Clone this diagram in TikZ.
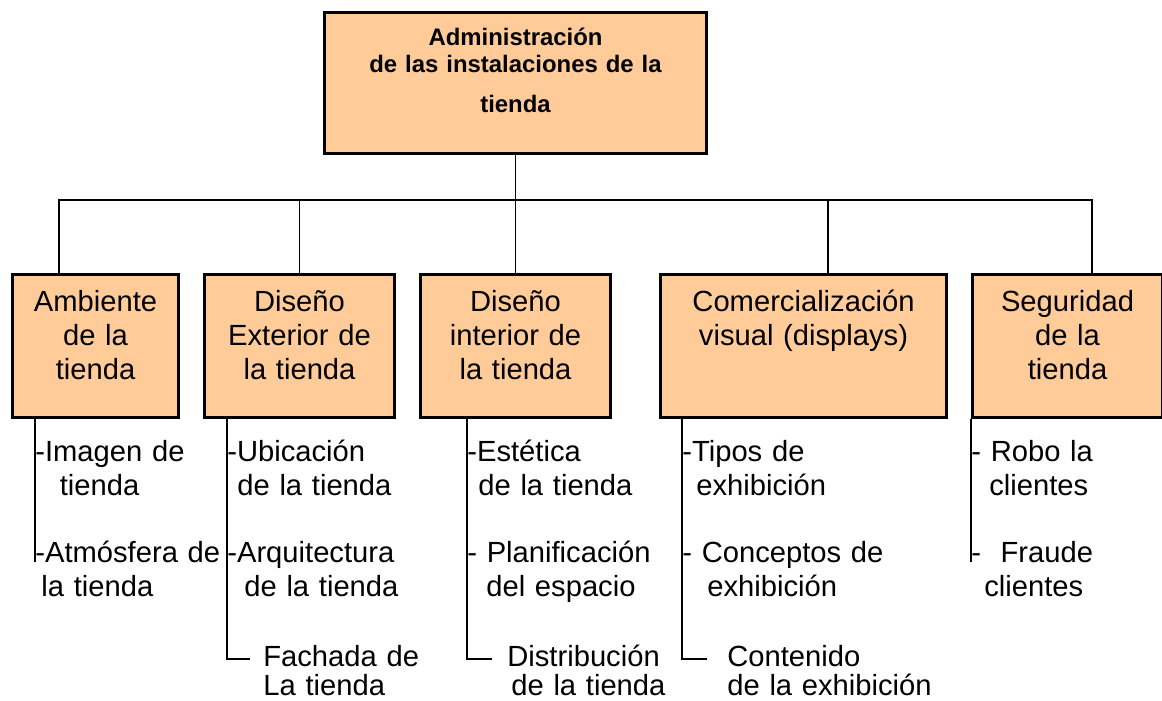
\documentclass[tikz,border=0pt]{standalone}
\usepackage{fontspec}
\setmainfont{Liberation Sans}
\usetikzlibrary{positioning,calc}
\definecolor{peach}{RGB}{255,204,153}

\begin{document}
\begin{tikzpicture}[
    topbox/.style={rectangle, draw=black, fill=peach, line width=1.7pt,
                   text width=7.64cm, inner sep=0pt, align=center,
                   text height=0.65cm, text depth=2.17cm,
                   font=\fontsize{13.6}{15.9}\selectfont\bfseries},
    areabox/.style={rectangle, draw=black, fill=peach, line width=1.7pt,
                    inner sep=0pt, align=center,
                    text height=0.73cm, text depth=2.13cm,
                    font=\fontsize{16.6}{19.35}\selectfont},
    entry/.style={inner sep=0pt, text width=5cm, align=left, anchor=base west,
                  font=\fontsize{16.6}{19.35}\selectfont},
    entrylast/.style={entry, font=\fontsize{16.6}{16.6}\selectfont},
    wire/.style={line width=0.85pt},
    stalk/.style={line width=1.6pt}
]
    \useasboundingbox (0,0) rectangle (23.24,-14);

    % Top box
    \node[topbox] (top) at (10.31,-1.66) {Administración\\de las instalaciones de la\\[6.8pt]tienda};

    % Areas
    \node[areabox, text width=3.32cm] (amb) at (1.91,-6.92) {Ambiente\\de la\\tienda};
    \node[areabox, text width=3.80cm] (ext) at (5.99,-6.92) {Diseño\\Exterior de\\la tienda};
    \node[areabox, text width=3.80cm] (int) at (10.31,-6.92) {Diseño\\interior de\\la tienda};
    \node[areabox, text width=5.72cm] (com) at (16.07,-6.92) {Comercialización\\visual (displays)};
    \node[areabox, text width=3.80cm] (seg) at (21.35,-6.92) {Seguridad\\de la\\tienda};

    % Connectors
    \coordinate (bus) at (10.31,-4);
    \draw[wire] (top.south) -- (bus);
    \draw[wire] ([xshift=-0.73cm]amb.north) |- (bus);
    \draw[wire] (ext.north) |- (bus);
    \draw[wire] (int.north) -- (bus);
    \draw[wire] ([xshift=0.49cm]com.north) |- (bus);
    \draw[wire] ([xshift=0.49cm]seg.north) |- (bus);

    % Entries
    \node[entry] (amb1) at (0.70,-9.22) {-Imagen de\\\hspace*{0.49cm}tienda};
    \node[entry] (amb2) at (0.70,-11.24) {-Atmósfera de\\\hspace*{0.12cm}la tienda};
    \node[entry] (ext1) at (4.54,-9.22) {-Ubicación\\\hspace*{0.2cm}de la tienda};
    \node[entry] (ext2) at (4.54,-11.24) {-Arquitectura\\\hspace*{0.34cm}de la tienda};
    \node[entrylast] (ext3) at (5.26,-13.32) {Fachada de\\La tienda};
    \node[entry] (int1) at (9.34,-9.22) {-Estética\\\hspace*{0.22cm}de la tienda};
    \node[entry] (int2) at (9.34,-11.24) {- Planificación\\\hspace*{0.38cm}del espacio};
    \node[entrylast] (int3) at (10.14,-13.32) {Distribución\\\hspace*{0.08cm}de la tienda};
    \node[entry] (com1) at (13.64,-9.22) {-Tipos de\\\hspace*{0.28cm}exhibición};
    \node[entry] (com2) at (13.64,-11.24) {- Conceptos de\\\hspace*{0.5cm}exhibición};
    \node[entrylast] (com3) at (14.54,-13.32) {Contenido\\de la exhibición};
    \node[entry] (seg1) at (19.42,-9.22) {- Robo la\\\hspace*{0.36cm}clientes};
    \node[entry] (seg2) at (19.42,-11.24) {-\hspace{0.39cm}Fraude\\\hspace*{0.26cm}clientes};

    % Stalks
    \coordinate (ext-end) at (5.00,-13.18);
    \coordinate (int-end) at (9.84,-13.18);
    \coordinate (com-end) at (14.14,-13.18);
    \draw[stalk] (amb.south -| amb1.base west) -- (amb2.base west);
    \draw[stalk] (ext.south -| ext1.base west) |- (ext-end);
    \draw[stalk] (int.south -| int1.base west) |- (int-end);
    \draw[stalk] (com.south -| com1.base west) |- (com-end);
    \draw[stalk, line width=1.1pt] (seg.south -| seg1.base west) -- (seg2.base west);
\end{tikzpicture}
\end{document}
